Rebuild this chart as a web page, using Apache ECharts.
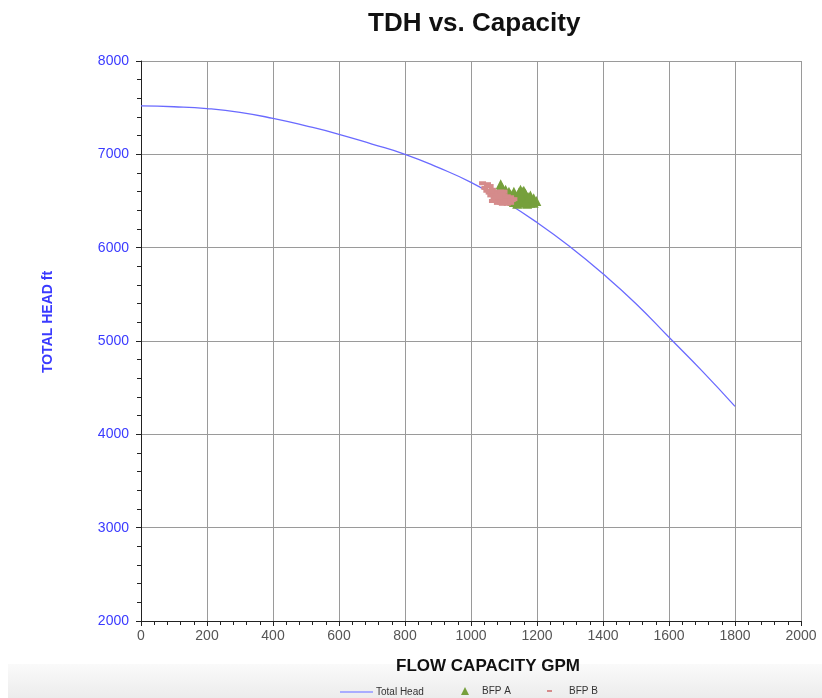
<!DOCTYPE html>
<html>
<head>
<meta charset="utf-8">
<script src="https://cdn.jsdelivr.net/npm/echarts@6/dist/echarts.min.js"></script>
<style>html,body{margin:0;padding:0;background:#fff}#c{width:822px;height:698px}</style>
</head>
<body>
<div id="c"></div>
<script>
const flow = [0,100,200,300,400,500,600,700,800,900,1000,1100,1200,1300,1400,1500,1600,1700,1800];
const totalHead = [7520,7510,7490,7450,7385,7305,7215,7110,7000,6860,6700,6500,6270,6010,5720,5400,5040,4680,4300];
const bfpA = [[1090,6680],[1085,6620],[1095,6640],[1100,6600],[1105,6580],[1110,6560],[1115,6600],[1120,6570],[1125,6540],[1130,6600],[1135,6560],[1140,6520],[1145,6590],[1150,6620],[1155,6560],[1160,6530],[1160,6490],[1165,6580],[1170,6540],[1175,6510],[1180,6560],[1185,6500],[1190,6530],[1198,6500],[1150,6480],[1140,6470],[1130,6490],[1170,6470],[1155,6600],[1180,6480],[1145,6545],[1135,6510],[1165,6500],[1175,6540],[1125,6500],[1150,6555],[1160,6610],[1190,6480],[1120,6530],[1105,6620]];
const bfpB = [[1035,6690],[1050,6680],[1058,6660],[1042,6640],[1048,6610],[1055,6590],[1065,6620],[1070,6580],[1060,6560],[1075,6550],[1080,6520],[1085,6570],[1090,6540],[1095,6510],[1100,6560],[1105,6490],[1110,6530],[1115,6500],[1120,6540],[1125,6510],[1130,6520],[1085,6490],[1095,6470],[1110,6470],[1070,6530],[1080,6600],[1100,6600],[1120,6480],[1065,6500],[1075,6580],[1090,6600],[1100,6520],[1080,6480],[1110,6550],[1095,6570],[1060,6600],[1085,6540],[1105,6510],[1120,6505],[1090,6480]];
const xTicks = {min:0, max:2000, interval:200};
const yTicks = {min:2000, max:8000, interval:1000};

const chart = echarts.init(document.getElementById('c'));
const font = '"Liberation Sans", Arial, sans-serif';
chart.setOption({
  animation:false,
  backgroundColor:'#fff',
  title:{text:'TDH vs. Capacity', left:363, top:6, textStyle:{fontFamily:font, fontSize:26, fontWeight:'bold', color:'#111'}},
  grid:{left:141, right:21, top:61, bottom:77, containLabel:false},
  graphic:[
    {type:'rect', z:-10, shape:{x:8, y:664, width:814, height:34},
     style:{fill:new echarts.graphic.LinearGradient(0,0,0,1,[{offset:0,color:'#fafafa'},{offset:1,color:'#ececec'}])}},
    {type:'text', x:48, y:322, rotation:Math.PI/2, style:{text:'TOTAL HEAD ft', fontFamily:font, fontSize:14, fontWeight:'bold', fill:'#3a3aff', align:'center', verticalAlign:'middle'}},
    {type:'text', x:488, y:666, style:{text:'FLOW CAPACITY GPM', fontFamily:font, fontSize:17, fontWeight:'bold', fill:'#111', align:'center', verticalAlign:'middle'}}
  ],
  legend:[
    {data:[{name:'Total Head', icon:'rect', itemStyle:{color:'#a9acff'}}], left:335, top:682, itemWidth:33, itemHeight:2, textStyle:{fontFamily:font, fontSize:10, color:'#333', padding:[0,0,0,-2]}},
    {data:[{name:'BFP A', icon:'triangle'}], left:456, top:681, itemWidth:8, itemHeight:8, textStyle:{fontFamily:font, fontSize:10, color:'#333', padding:[0,0,0,8]}},
    {data:[{name:'BFP B', icon:'rect'}], left:542, top:681, itemWidth:5, itemHeight:2, textStyle:{fontFamily:font, fontSize:10, color:'#333', padding:[0,0,0,12]}}
  ],
  xAxis:{type:'value', min:xTicks.min, max:xTicks.max, interval:xTicks.interval,
    axisLine:{show:true, onZero:false, lineStyle:{color:'#222', width:1}},
    axisTick:{show:true, inside:false, length:5, lineStyle:{color:'#222'}},
    minorTick:{show:true, splitNumber:5, length:4, lineStyle:{color:'#222'}},
    splitLine:{show:true, lineStyle:{color:'#9a9a9a', width:1}},
    axisLabel:{fontFamily:font, fontSize:14, color:'#555', margin:8, formatter:v=>String(v)}},
  yAxis:{type:'value', min:yTicks.min, max:yTicks.max, interval:yTicks.interval,
    axisLine:{show:true, onZero:false, lineStyle:{color:'#222', width:1}},
    axisTick:{show:true, length:5, lineStyle:{color:'#222'}},
    minorTick:{show:true, splitNumber:5, length:4, lineStyle:{color:'#222'}},
    splitLine:{show:true, lineStyle:{color:'#9a9a9a', width:1}},
    axisLabel:{fontFamily:font, fontSize:14, color:'#3a3aff', margin:12, formatter:v=>String(v)}},
  series:[
    {name:'Total Head', type:'line', smooth:true, symbol:'none', data:flow.map((f,i)=>[f,totalHead[i]]),
      lineStyle:{color:'#6a6aff', width:1.3}, itemStyle:{color:'#6a6aff'}, z:2},
    {name:'BFP A', type:'scatter', symbol:'triangle', symbolSize:10, data:bfpA,
      itemStyle:{color:'#76a03c', opacity:1}, z:3},
    {name:'BFP B', type:'scatter', symbol:'rect', symbolSize:[7,4], data:bfpB,
      itemStyle:{color:'#d58b8b', opacity:1}, z:4}
  ]
});
</script>
</body>
</html>
